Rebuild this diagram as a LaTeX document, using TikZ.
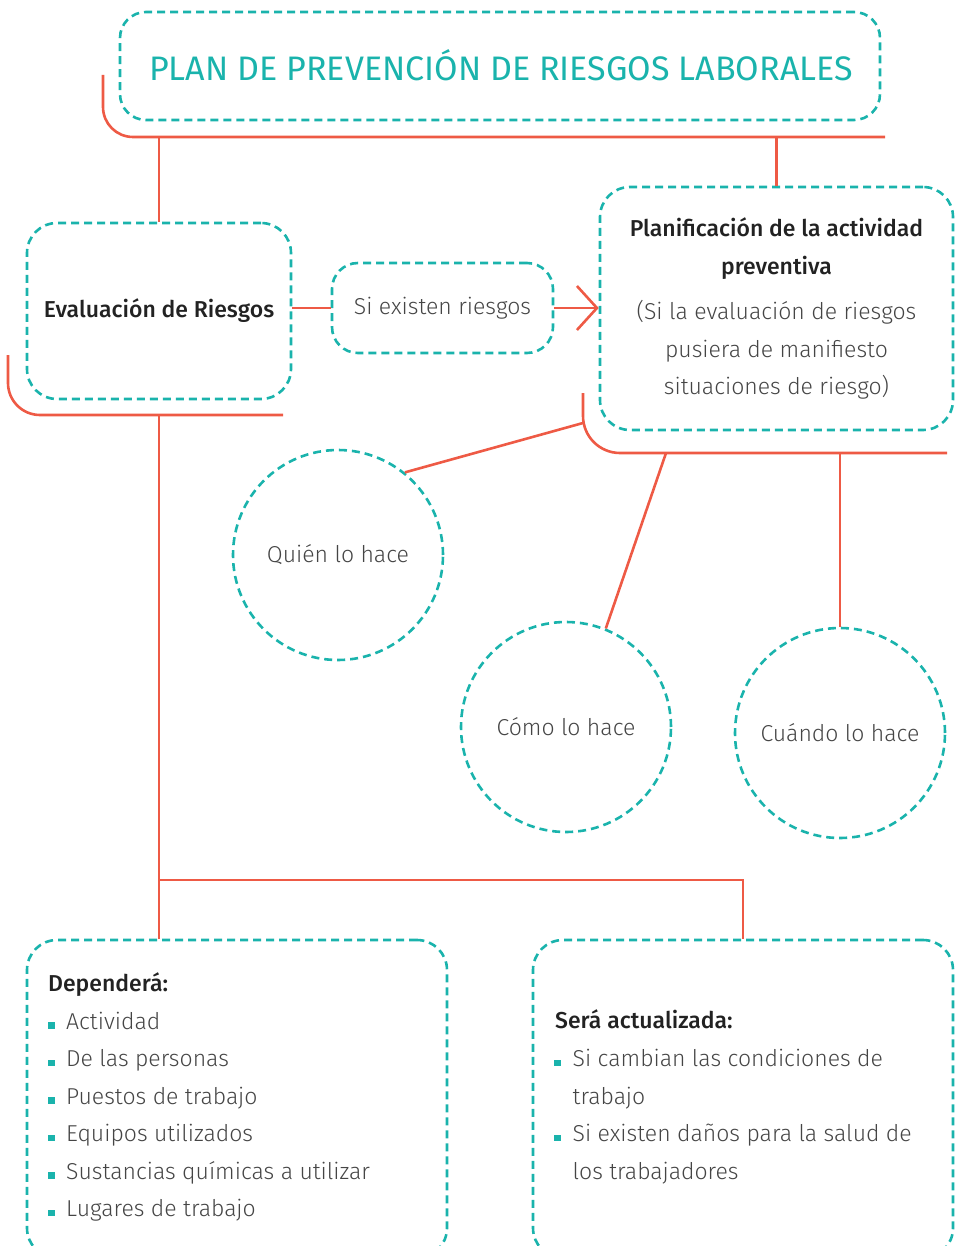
\documentclass[tikz,border=0pt]{standalone}
\usepackage{fontspec}
\setmainfont{Fira Sans}[UprightFont=* Light, BoldFont=* Medium]
\newfontfamily\titlefont{Fira Sans}
\usepackage{tikz}
\usetikzlibrary{arrows.meta}
\definecolor{tealdash}{HTML}{1AB3AC}
\definecolor{redline}{HTML}{EE5A45}
\definecolor{txtgray}{HTML}{454545}
\definecolor{txtdark}{HTML}{222222}

\begin{document}
\begin{tikzpicture}[x=1pt,y=-1pt,
  box/.style={draw=tealdash,line width=2.6pt,dash pattern=on 8pt off 5pt,rounded corners=#1,rectangle},
  circ/.style={draw=tealdash,line width=2.6pt,dash pattern=on 8pt off 5pt,circle,minimum size=210pt,inner sep=0pt,text=txtgray,font=\fontsize{23}{37.5}\selectfont},
  conn/.style={draw=redline,line width=2.6pt},
  body/.style={text=txtgray,font=\fontsize{23}{37.5}\selectfont,inner sep=0pt},
  head/.style={text=txtdark,font=\fontsize{23}{37.5}\selectfont\bfseries,inner sep=0pt},
  bul/.style={fill=tealdash,minimum size=6.5pt,inner sep=0pt,anchor=south west}]
\useasboundingbox (0,0) rectangle (960,1246);
\clip (0,0) rectangle (960,1246);
\node[box=26pt,minimum width=760pt,minimum height=108pt] (plan) at (500,66) {};
\node[text=tealdash,font=\titlefont\fontsize{34}{37}\selectfont] (title) at (501,65) {PLAN DE PREVENCIÓN DE RIESGOS LABORALES};
\node[box=30pt,minimum width=264pt,minimum height=176pt,head] (eval) at (159,311) {Evaluación de Riesgos};
\node[box=26pt,minimum width=221pt,minimum height=90pt,body] (cond) at (442.5,308) {Si existen riesgos};
\node[box=30pt,minimum width=353pt,minimum height=243pt,align=center,body] (planif) at (776.5,308.5)
  {\textcolor{txtdark}{\bfseries\fontsize{23}{37.5}\selectfont Planificación de la actividad}\\
   \textcolor{txtdark}{\bfseries\fontsize{23}{37.5}\selectfont preventiva}\\[8pt]
   (Si la evaluación de riesgos\\pusiera de manifiesto\\situaciones de riesgo)};
\node[circ] (quien) at (338,555) {Quién lo hace};
\node[circ] (como) at (566,727) {Cómo lo hace};
\node[circ] (cuando) at (840,733) {Cuándo lo hace};
\node[box=30pt,minimum width=420pt,minimum height=318pt] (dep) at (237,1099) {};
\node[box=30pt,minimum width=420pt,minimum height=318pt] (sera) at (743,1099) {};

\draw[conn,rounded corners=30pt] (103,75) |- (885,137) coordinate (tbar);
\draw[conn] (eval.north) -- (eval.north |- tbar);
\draw[conn] (planif.north) -- (planif.north |- tbar);
\draw[conn,rounded corners=32pt] (8,355) |- (283,415) coordinate (ebar);
\draw[conn] (eval.east |- cond.west) -- (cond.west);
\draw[conn,-{Straight Barb[length=20pt,width=44pt]}] (cond.east) -- (planif.west |- cond.east);
\draw[conn,rounded corners=37pt] (583,393) coordinate (ptop) |- (947,453) coordinate (pbar);
\coordinate (qj) at (583,423);
\draw[conn] (qj) -- (quien.51);
\draw[conn] (666,453) coordinate (cj) -- (como.68);
\draw[conn] (cuando.north |- pbar) -- (cuando.north);
\coordinate (jn) at (159,880);
\draw[conn] (eval.south |- ebar) -- (jn) -| (sera.north);
\draw[conn] (jn) -- (jn |- dep.north);

\node[head,anchor=base west] (dephead) at (48,991) {Dependerá:};
\foreach \y/\t [count=\i] in {1029/Actividad,1066.5/De las personas,1104/Puestos de trabajo,1141.5/Equipos utilizados,1179/Sustancias químicas a utilizar,1216.5/Lugares de trabajo} {
  \node[bul] (db\i) at (48,\y) {};
  \node[body,anchor=base west] (dt\i) at (66,\y) {\t};
}
\node[head,anchor=base west] (serahead) at (555,1028) {Será actualizada:};
\node[bul] (sb1) at (554,1066.5) {};
\node[body,anchor=base west] (st1) at (572.5,1066.5) {Si cambian las condiciones de};
\node[body,anchor=base west] (st1b) at (572.5,1104) {trabajo};
\node[bul] (sb2) at (554,1141.5) {};
\node[body,anchor=base west] (st2) at (572.5,1141.5) {Si existen daños para la salud de};
\node[body,anchor=base west] (st2b) at (572.5,1179) {los trabajadores};
\end{tikzpicture}
\end{document}
